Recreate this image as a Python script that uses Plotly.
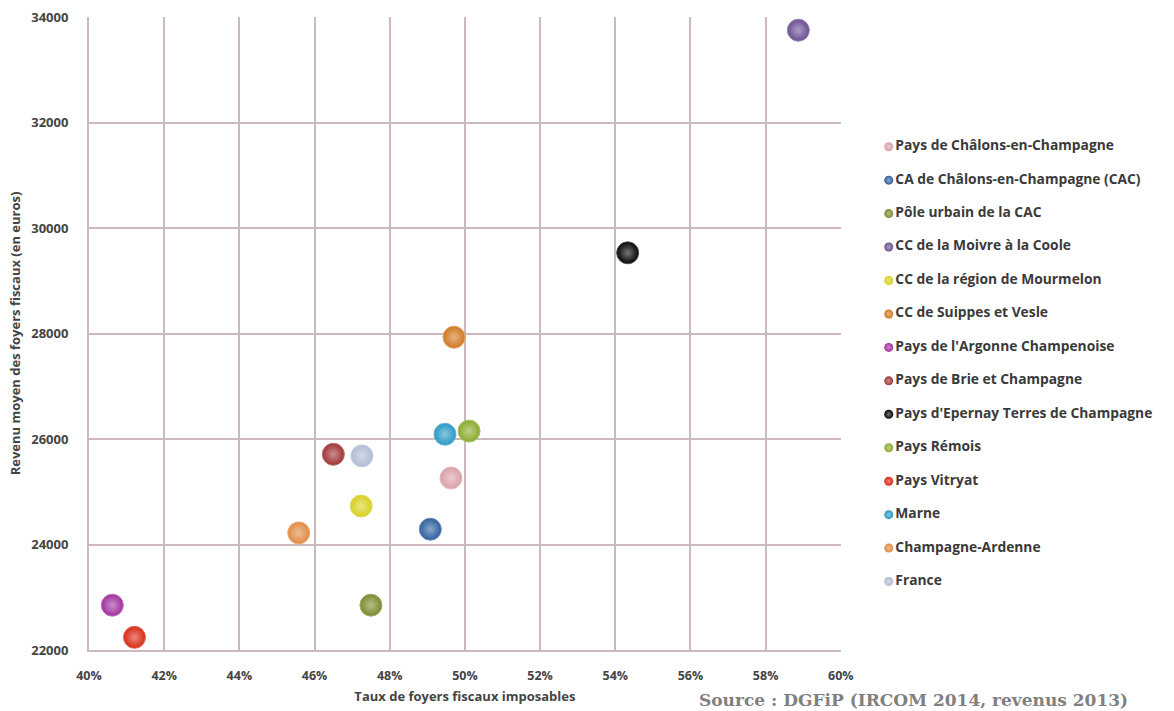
import plotly.graph_objects as go

# Territoires et indicateurs fiscaux (IRCOM 2014, revenus 2013)
territoires = [
    "Pays de Châlons-en-Champagne",
    "CA de Châlons-en-Champagne (CAC)",
    "Pôle urbain de la CAC",
    "CC de la Moivre à la Coole",
    "CC de la région de Mourmelon",
    "CC de Suippes et Vesle",
    "Pays de l'Argonne Champenoise",
    "Pays de Brie et Champagne",
    "Pays d'Epernay Terres de Champagne",
    "Pays Rémois",
    "Pays Vitryat",
    "Marne",
    "Champagne-Ardenne",
    "France",
]
taux_imposables = [49.63, 49.08, 47.50, 58.87, 47.24, 49.71, 40.62,
                   46.50, 54.33, 50.11, 41.21, 49.47, 45.58, 47.26]
revenu_moyen = [25260, 24290, 22850, 33750, 24730, 27930, 22850,
                25710, 29530, 26150, 22240, 26090, 24220, 25680]
couleurs = ["#d9a0a8", "#2f5f9e", "#7c8a2e", "#6a4f92", "#d8d020", "#d07820",
            "#a0309e", "#a03434", "#050505", "#8aaa2c", "#d82a14", "#2a98c4",
            "#e08a40", "#b0bcd4"]

x_ticks = list(range(40, 61, 2))
y_ticks = list(range(22000, 34001, 2000))

W, H = 1174, 711
ML, MR, MT, MB = 89, 6, 17, 61
PW, PH = W - ML - MR, H - MT - MB   # zone de tracé en pixels

GRID = "#cbb9bb"
TXT = "#444444"
XTICK_FONT = dict(family="Open Sans", size=12.5, color=TXT, weight="bold")
YTICK_FONT = dict(family="Open Sans", size=13, color=TXT, weight="bold")
TITLE_FONT = dict(family="Open Sans", size=13, color=TXT, weight="bold")


def eclaircir(hex_color, f=0.45):
    r, g, b = (int(hex_color[i:i + 2], 16) for i in (1, 3, 5))
    r, g, b = (int(c + (255 - c) * f) for c in (r, g, b))
    return f"#{r:02x}{g:02x}{b:02x}"


fig = go.Figure()

# Points (sphères)
for nom, x, y, c in zip(territoires, taux_imposables, revenu_moyen, couleurs):
    fig.add_trace(go.Scatter(
        x=[x], y=[y], mode="markers", name=nom, showlegend=False,
        marker=dict(size=22, color=c,
                    gradient=dict(type="radial", color=eclaircir(c)),
                    line=dict(width=1, color=eclaircir(c, 0.3))),
        xaxis="x", yaxis="y",
    ))

# Légende dessinée sur un axe auxiliaire
rangs = list(range(len(territoires)))
fig.add_trace(go.Scatter(
    x=[0] * len(territoires), y=rangs, mode="markers+text",
    text=territoires, textposition="middle right",
    textfont=dict(family="Open Sans", size=13.8, color="#3a3a3a", weight="bold"),
    marker=dict(size=9, color=couleurs,
                gradient=dict(type="radial", color=[eclaircir(c) for c in couleurs])),
    showlegend=False, hoverinfo="skip", cliponaxis=False,
    xaxis="x2", yaxis="y2",
))

# échelle de la légende : 33.45 px par ligne, première ligne à y = 146.7 px
pas = 33.45
y2_haut = -(146.7 - MT) / pas
y2_bas = y2_haut + PH / pas
x2_gauche = (893 - ML) / PW

fig.update_layout(
    width=W, height=H,
    margin=dict(l=ML, r=MR, t=MT, b=MB),
    paper_bgcolor="white", plot_bgcolor="white",
    showlegend=False,
    xaxis=dict(
        domain=[0, (850 - ML) / PW], range=[40, 60], tickvals=x_ticks,
        ticktext=[f"{v}%" for v in x_ticks],
        showgrid=True, gridcolor=GRID, gridwidth=2,
        showline=True, linecolor=GRID, linewidth=2, zeroline=False,
        ticks="", ticklabelstandoff=13, tickfont=XTICK_FONT,
        title=dict(text="Taux de foyers fiscaux imposables",
                   font=TITLE_FONT, standoff=9),
    ),
    yaxis=dict(
        range=[22000, 34000], tickvals=y_ticks,
        ticktext=[str(v) for v in y_ticks],
        showgrid=True, gridcolor=GRID, gridwidth=2,
        showline=True, linecolor=GRID, linewidth=2, zeroline=False,
        ticks="", ticklabelstandoff=16, tickfont=YTICK_FONT,
        title=dict(text="Revenu moyen des foyers fiscaux (en euros)",
                   font=TITLE_FONT, standoff=8),
    ),
    xaxis2=dict(domain=[x2_gauche, 1], range=[-0.02, 0.98],
                visible=False, fixedrange=True),
    yaxis2=dict(domain=[0, 1], range=[y2_bas, y2_haut], anchor="x2",
                visible=False, fixedrange=True),
    annotations=[dict(
        text="Source : DGFiP (IRCOM 2014, revenus 2013)",
        xref="paper", yref="paper", x=(1143 - ML) / PW, y=-50 / PH,
        xanchor="right", yanchor="middle", showarrow=False,
        font=dict(family="DejaVu Serif", size=17, color="#808080", weight="bold"),
    )],
)

# page sans marge ni barre de défilement
page_css = ("document.documentElement.style.overflow='hidden';"
            "document.body.style.margin='0';"
            "document.body.style.overflow='hidden';")
fig.write_html("out.html", config={"responsive": False}, post_script=page_css)
